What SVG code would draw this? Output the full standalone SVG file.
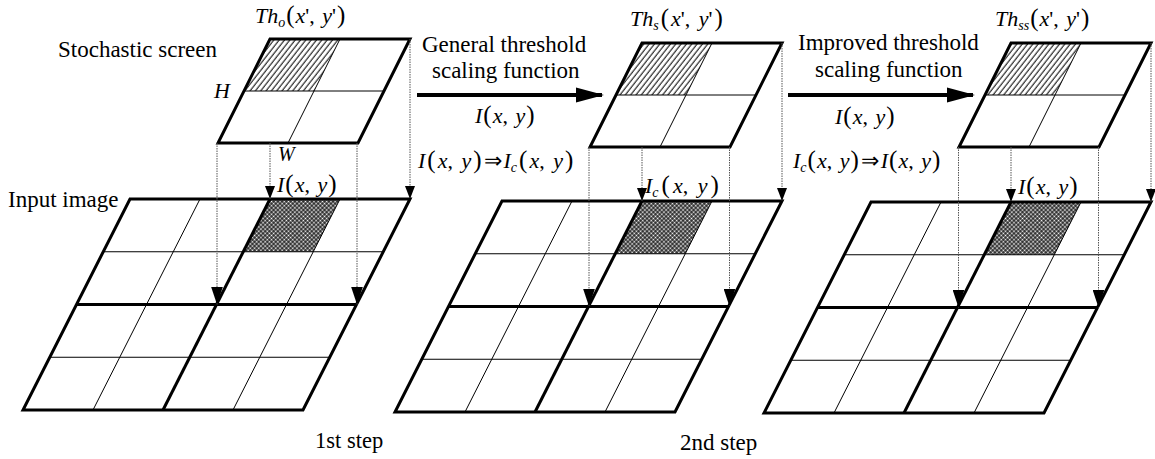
<svg xmlns="http://www.w3.org/2000/svg" width="1155" height="459" viewBox="0 0 1155 459">
<style>
.i{font-style:italic}
.s{font-size:14px;font-style:italic}
.p{font-size:25px}
.thick{fill:none;stroke:#000;stroke-width:3;stroke-linejoin:miter}
.thin{fill:none;stroke:#000;stroke-width:1}
.dot{fill:none;stroke:#555;stroke-width:1;stroke-dasharray:1.5 1}
.big{fill:none;stroke:#000;stroke-width:4}
</style>
<defs>
<pattern id="hatch" width="4.2" height="10" patternUnits="userSpaceOnUse" patternTransform="rotate(38)">
<line x1="1" y1="0" x2="1" y2="10" stroke="#000" stroke-width="1"/>
</pattern>
<pattern id="check" width="3" height="3" patternUnits="userSpaceOnUse" patternTransform="rotate(45)">
<rect width="3" height="3" fill="#222"/>
<circle cx="1.5" cy="1.5" r="1" fill="#fff"/>
</pattern>
<marker id="ahB" markerUnits="userSpaceOnUse" markerWidth="18" markerHeight="12" refX="18" refY="6" orient="auto" viewBox="0 0 18 12">
<path d="M0,0 L18,6 L0,12 z" fill="#000"/>
</marker>
<marker id="ahS" markerUnits="userSpaceOnUse" markerWidth="13" markerHeight="10" refX="13" refY="5" orient="auto" viewBox="0 0 13 10">
<path d="M0,0 L13,5 L0,10 z" fill="#000"/>
</marker>
<marker id="ahH" markerUnits="userSpaceOnUse" markerWidth="28" markerHeight="16" refX="26" refY="8" orient="auto" viewBox="0 0 28 16">
<path d="M0,0.5 L28,8 L0,15.5 z" fill="#000"/>
</marker>
</defs>

<!-- Grid 1: input image -->
<g id="grid1">
<polygon points="270,199 340,199 313.25,251.75 243.25,251.75" fill="url(#check)"/>
<line class="thin" x1="103.25" y1="251.75" x2="383.25" y2="251.75"/>
<line class="thin" x1="49.75" y1="357.25" x2="329.75" y2="357.25"/>
<line class="thin" x1="200" y1="199" x2="93" y2="410"/>
<line class="thin" x1="340" y1="199" x2="233" y2="410"/>
<line class="thick" x1="76.5" y1="304.5" x2="356.5" y2="304.5"/>
<line class="thick" x1="270" y1="199" x2="163" y2="410"/>
<polygon class="thick" points="130,199 410,199 303,410 23,410"/>
</g>

<!-- Grid 2 -->
<g id="grid2">
<polygon points="642,201 712,201 685.25,253.75 615.25,253.75" fill="url(#check)"/>
<line class="thin" x1="475.25" y1="253.75" x2="755.25" y2="253.75"/>
<line class="thin" x1="421.75" y1="359.25" x2="701.75" y2="359.25"/>
<line class="thin" x1="572" y1="201" x2="465" y2="412"/>
<line class="thin" x1="712" y1="201" x2="605" y2="412"/>
<line class="thick" x1="448.5" y1="306.5" x2="728.5" y2="306.5"/>
<line class="thick" x1="642" y1="201" x2="535" y2="412"/>
<polygon class="thick" points="502,201 782,201 675,412 395,412"/>
</g>

<!-- Grid 3 -->
<g id="grid3">
<polygon points="1011,202 1081,202 1054.25,254.75 984.25,254.75" fill="url(#check)"/>
<line class="thin" x1="844.25" y1="254.75" x2="1124.25" y2="254.75"/>
<line class="thin" x1="790.75" y1="360.25" x2="1070.75" y2="360.25"/>
<line class="thin" x1="941" y1="202" x2="834" y2="413"/>
<line class="thin" x1="1081" y1="202" x2="974" y2="413"/>
<line class="thick" x1="817.5" y1="307.5" x2="1097.5" y2="307.5"/>
<line class="thick" x1="1011" y1="202" x2="904" y2="413"/>
<polygon class="thick" points="871,202 1151,202 1044,413 764,413"/>
</g>

<!-- Screens -->
<g id="screen1">
<polygon points="270,39 340,39 314,91 244,91" fill="url(#hatch)"/>
<line class="thin" x1="244" y1="91" x2="384" y2="91"/>
<line class="thin" x1="340" y1="39" x2="288" y2="143"/>
<polygon class="thick" points="270,39 410,39 358,143 218,143"/>
</g>
<g id="screen2">
<polygon points="642,43 712,43 686,95 616,95" fill="url(#hatch)"/>
<line class="thin" x1="616" y1="95" x2="756" y2="95"/>
<line class="thin" x1="712" y1="43" x2="660" y2="147"/>
<polygon class="thick" points="642,43 782,43 730,147 590,147"/>
</g>
<g id="screen3">
<polygon points="1011,43 1081,43 1055,95 985,95" fill="url(#hatch)"/>
<line class="thin" x1="985" y1="95" x2="1125" y2="95"/>
<line class="thin" x1="1081" y1="43" x2="1029" y2="147"/>
<polygon class="thick" points="1011,43 1151,43 1099,147 959,147"/>
</g>

<!-- Connectors -->
<g id="connectors">
<line class="dot" x1="217" y1="143" x2="217" y2="304.5" marker-end="url(#ahB)"/>
<line class="dot" x1="357" y1="143" x2="357" y2="304.5" marker-end="url(#ahB)"/>
<line class="dot" x1="270" y1="143" x2="270" y2="199" marker-end="url(#ahS)"/>
<line class="dot" x1="410" y1="39" x2="410" y2="199" marker-end="url(#ahS)"/>
<line class="dot" x1="589" y1="147" x2="589" y2="306.5" marker-end="url(#ahB)"/>
<line class="dot" x1="729.5" y1="147" x2="729.5" y2="306.5" marker-end="url(#ahB)"/>
<line class="dot" x1="642" y1="147" x2="642" y2="201" marker-end="url(#ahS)"/>
<line class="dot" x1="782" y1="43" x2="782" y2="201" marker-end="url(#ahS)"/>
<line class="dot" x1="958.5" y1="147" x2="958.5" y2="307.5" marker-end="url(#ahB)"/>
<line class="dot" x1="1098.5" y1="147" x2="1098.5" y2="307.5" marker-end="url(#ahB)"/>
<line class="dot" x1="1011" y1="147" x2="1011" y2="202" marker-end="url(#ahS)"/>
<line class="dot" x1="1151" y1="43" x2="1151" y2="202" marker-end="url(#ahS)"/>
<line class="big" x1="417" y1="95" x2="602" y2="95" marker-end="url(#ahH)"/>
<line class="big" x1="788" y1="95" x2="973" y2="95" marker-end="url(#ahH)"/>
</g>

<!-- Labels -->
<g id="labels" fill="#000">
<text font-family="Liberation Serif" font-size="23" x="58" y="57">Stochastic screen</text>
<text font-family="Liberation Serif" font-size="23" x="8" y="207">Input image</text>
<text font-family="Liberation Serif" font-size="22.5" x="315" y="448">1st step</text>
<text font-family="Liberation Serif" font-size="23" x="680" y="450">2nd step</text>
<text font-family="Liberation Serif" font-size="23" x="422" y="52">General threshold</text>
<text font-family="Liberation Serif" font-size="23" x="432" y="78">scaling function</text>
<text font-family="Liberation Serif" font-size="23" x="798" y="50">Improved threshold</text>
<text font-family="Liberation Serif" font-size="23" x="815" y="77">scaling function</text>

<text font-family="Liberation Serif" font-size="22" font-style="italic" x="214" y="98">H</text>
<text font-family="Liberation Serif" font-size="20" font-style="italic" x="278" y="161">W</text>

<text font-family="Liberation Serif" font-size="22" x="255" y="23"><tspan class="i">Th</tspan><tspan class="s" dy="4">o</tspan><tspan class="p" dy="-4" dx="1">(</tspan><tspan class="i" dx="1">x</tspan>', <tspan class="i" dx="2">y</tspan>'<tspan class="p" dx="1">)</tspan></text>
<text font-family="Liberation Serif" font-size="22" x="630" y="26"><tspan class="i">Th</tspan><tspan class="s" dy="4">s</tspan><tspan class="p" dy="-4" dx="2">(</tspan><tspan class="i" dx="2">x</tspan>', <tspan class="i" dx="3">y</tspan>'<tspan class="p" dx="2">)</tspan></text>
<text font-family="Liberation Serif" font-size="22" x="995" y="26"><tspan class="i">Th</tspan><tspan class="s" dy="4">ss</tspan><tspan class="p" dy="-4" dx="1">(</tspan><tspan class="i" dx="1">x</tspan>', <tspan class="i" dx="2">y</tspan>'<tspan class="p" dx="1">)</tspan></text>

<text font-family="Liberation Serif" font-size="22" x="277" y="192"><tspan class="i">I</tspan><tspan class="p" dx="1">(</tspan><tspan class="i" dx="1">x</tspan>, <tspan class="i" dx="2">y</tspan><tspan class="p" dx="1">)</tspan></text>
<text font-family="Liberation Serif" font-size="22" x="475" y="123"><tspan class="i">I</tspan><tspan class="p" dx="1">(</tspan><tspan class="i" dx="1">x</tspan>, <tspan class="i" dx="2">y</tspan><tspan class="p" dx="1">)</tspan></text>
<text font-family="Liberation Serif" font-size="22" x="835" y="124"><tspan class="i">I</tspan><tspan class="p" dx="1">(</tspan><tspan class="i" dx="1">x</tspan>, <tspan class="i" dx="2">y</tspan><tspan class="p" dx="1">)</tspan></text>
<text font-family="Liberation Serif" font-size="22" x="1018" y="194"><tspan class="i">I</tspan><tspan class="p" dx="1">(</tspan><tspan class="i" dx="1">x</tspan>, <tspan class="i" dx="2">y</tspan><tspan class="p" dx="1">)</tspan></text>
<text font-family="Liberation Serif" font-size="22" x="645" y="193"><tspan class="i">I</tspan><tspan class="s" dy="4">c</tspan><tspan class="p" dy="-4" dx="3">(</tspan><tspan class="i" dx="3">x</tspan>, <tspan class="i" dx="4">y</tspan><tspan class="p" dx="3">)</tspan></text>
<text font-family="Liberation Serif" font-size="22" x="418" y="168"><tspan class="i">I</tspan><tspan class="p" dx="2">(</tspan><tspan class="i" dx="2">x</tspan>, <tspan class="i" dx="3">y</tspan><tspan class="p" dx="2">)</tspan><tspan dx="2">⇒</tspan><tspan class="i" dx="2">I</tspan><tspan class="s" dy="4">c</tspan><tspan class="p" dy="-4" dx="2">(</tspan><tspan class="i" dx="2">x</tspan>, <tspan class="i" dx="3">y</tspan><tspan class="p" dx="2">)</tspan></text>
<text font-family="Liberation Serif" font-size="22" x="793" y="168"><tspan class="i">I</tspan><tspan class="s" dy="4">c</tspan><tspan class="p" dy="-4" dx="1">(</tspan><tspan class="i" dx="1">x</tspan>, <tspan class="i" dx="2">y</tspan><tspan class="p" dx="1">)</tspan><tspan dx="2">⇒</tspan><tspan class="i" dx="2">I</tspan><tspan class="p" dx="1">(</tspan><tspan class="i" dx="1">x</tspan>, <tspan class="i" dx="2">y</tspan><tspan class="p" dx="1">)</tspan></text>
</g>
</svg>
